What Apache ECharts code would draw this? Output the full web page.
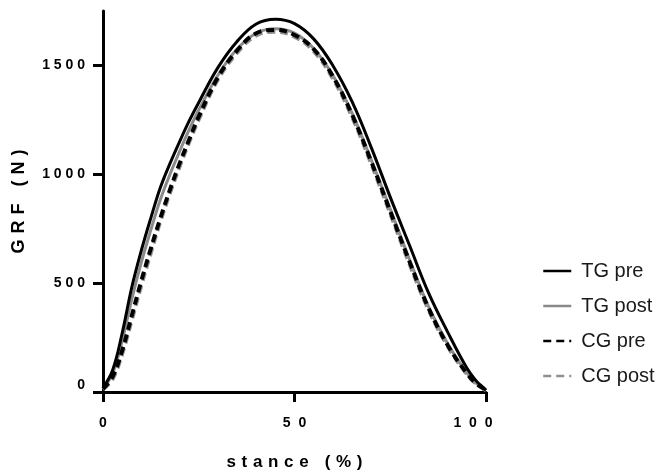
<!DOCTYPE html>
<html>
<head>
<meta charset="utf-8">
<script src="https://cdn.jsdelivr.net/npm/echarts@6/dist/echarts.min.js"></script>
<style>
  html, body { margin: 0; padding: 0; background: #fff; }
  #chart { width: 658px; height: 476px; }
</style>
</head>
<body>
<div id="chart"></div>
<script>
// stance (%) sample points and GRF (N) values
var stance = [0, 2.5, 5, 7.5, 10, 12.5, 15, 17.5, 20, 22.5, 25, 30, 35, 40, 45, 50, 55, 60, 65, 70, 75, 80, 85, 90, 95, 97.5, 99, 100];
var tgPre  = [20, 100, 270, 480, 650, 800, 940, 1050, 1150, 1245, 1330, 1490, 1610, 1690, 1712, 1692, 1622, 1500, 1335, 1125, 895, 675, 455, 275, 110, 50, 25, 8];
var tgPost = [15, 85, 235, 425, 595, 745, 885, 1000, 1105, 1205, 1295, 1455, 1575, 1648, 1668, 1648, 1578, 1455, 1282, 1068, 840, 610, 392, 222, 88, 40, 21, 8];
var cgPre  = [15, 70, 190, 350, 510, 660, 800, 930, 1050, 1160, 1265, 1445, 1568, 1648, 1663, 1640, 1575, 1450, 1275, 1060, 830, 600, 385, 215, 85, 38, 20, 8];
var cgPost = [12, 60, 175, 330, 490, 640, 785, 915, 1035, 1148, 1252, 1435, 1558, 1638, 1655, 1632, 1566, 1440, 1265, 1050, 820, 590, 378, 210, 82, 36, 19, 8];

var yTicks = [0, 500, 1000, 1500];

var FONT = "Liberation Sans, Arial, sans-serif";
var GAP = "\u2004"; // letter spacing like the original

function spaced(s, gap) {
  return String(s).split("").join(gap);
}

function pairs(vals) {
  return stance.map(function (x, i) { return [x, vals[i]]; });
}

var chart = echarts.init(document.getElementById("chart"), null, { renderer: "canvas" });

var lineSeries = function (name, vals, color, dashed) {
  return {
    name: name,
    type: "line",
    data: pairs(vals),
    smooth: 0.4,
    showSymbol: false,
    symbol: "none",
    lineStyle: {
      color: color,
      width: dashed ? 4 : 3,
      type: dashed ? [8, 5] : "solid"
    },
    itemStyle: { color: color },
    emphasis: { disabled: true }
  };
};

var option = {
  animation: false,
  backgroundColor: "#fff",
  grid: { left: 103, right: 172, top: 11, bottom: 82, containLabel: false },
  legend: {
    orient: "vertical",
    left: 537,
    top: 256,
    itemWidth: 28,
    itemHeight: 12,
    itemGap: 15,
    data: ["TG pre", "TG post", "CG pre", "CG post"],
    itemStyle: { opacity: 0 },
    lineStyle: { width: 2.5 },
    textStyle: { fontFamily: FONT, fontSize: 20, color: "#1a1a1a", padding: [0, 0, 0, 5] }
  },
  xAxis: {
    type: "value",
    min: 0,
    max: 100,
    interval: 50,
    name: spaced("stance (%)", GAP),
    nameLocation: "middle",
    nameGap: 62,
    nameTextStyle: { fontFamily: FONT, fontWeight: "bold", fontSize: 17, color: "#000" },
    axisLine: { lineStyle: { color: "#000", width: 3 } },
    axisTick: { show: true, length: 10, lineStyle: { color: "#000", width: 3 } },
    splitLine: { show: false },
    axisLabel: {
      margin: 24,
      fontFamily: FONT,
      fontWeight: "bold",
      fontSize: 14,
      color: "#000",
      formatter: function (v) {
        if (v === 100) return "{m|" + spaced(v, "  ") + "}";
        return spaced(v, "  ");
      },
      rich: {
        m: { fontFamily: FONT, fontWeight: "bold", fontSize: 14, color: "#000", padding: [0, 26, 0, 0] }
      }
    }
  },
  yAxis: {
    type: "value",
    min: 0,
    max: 1750,
    name: spaced("GRF (N)", GAP),
    nameLocation: "middle",
    nameGap: 75,
    nameTextStyle: { fontFamily: FONT, fontWeight: "bold", fontSize: 18, color: "#000" },
    axisLine: { show: true, lineStyle: { color: "#000", width: 3 } },
    axisTick: { show: true, length: 10, customValues: yTicks, lineStyle: { color: "#000", width: 3 } },
    splitLine: { show: false },
    axisLabel: {
      customValues: yTicks,
      margin: 18,
      fontFamily: FONT,
      fontWeight: "bold",
      fontSize: 14,
      color: "#000",
      verticalAlignMinLabel: "bottom",
      formatter: function (v) { return spaced(v, " "); }
    }
  },
  series: [
    lineSeries("TG post", tgPost, "#8a8a8a", false),
    lineSeries("CG post", cgPost, "#8f8f8f", true),
    lineSeries("CG pre", cgPre, "#000", true),
    lineSeries("TG pre", tgPre, "#000", false)
  ]
};

chart.setOption(option);
</script>
</body>
</html>
